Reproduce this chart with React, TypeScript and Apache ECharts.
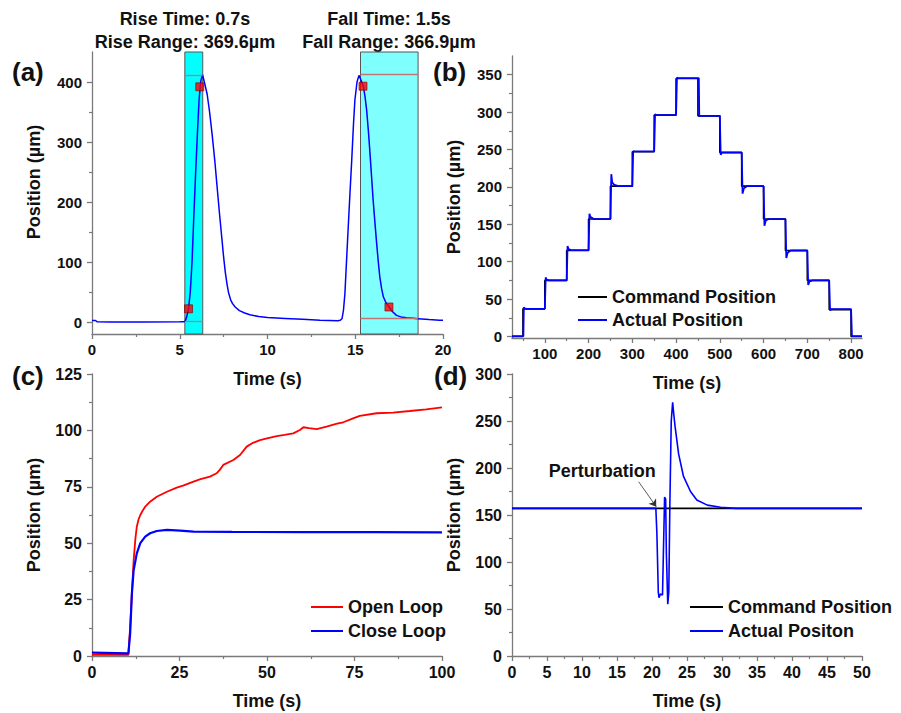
import React, { useEffect, useRef } from "react";
import * as echarts from "echarts";

// ---------- Panel (a): rise / fall response ----------
const aCurve: [number, number][] = [
  [0, 2.5], [0.2, 2.5], [0.3, 0.3], [1, 0.2], [3, 0.2], [5, 0.3], [5.25, 0.4], [5.32, 2], [5.4, 9],
  [5.5, 22], [5.6, 50], [5.7, 100], [5.8, 175], [5.9, 245], [6.0, 310], [6.1, 370], [6.2, 402],
  [6.3, 412], [6.4, 400], [6.56, 380], [6.7, 350], [6.84, 314], [7.0, 268], [7.12, 228], [7.26, 182],
  [7.41, 136], [7.5, 108], [7.6, 82], [7.7, 62], [7.78, 49], [7.9, 37], [8.0, 31], [8.16, 25],
  [8.4, 19], [8.7, 15], [9.0, 12], [9.5, 9], [10, 7.5], [11, 6], [12, 4.5], [13, 3], [14, 2],
  [14.15, 3], [14.25, 6], [14.33, 20], [14.41, 47], [14.5, 100], [14.6, 158], [14.7, 215],
  [14.8, 270], [14.9, 330], [14.98, 370], [15.1, 400], [15.21, 411], [15.3, 405], [15.46, 393],
  [15.56, 375], [15.65, 353], [15.75, 318], [15.84, 281], [15.93, 242], [16.02, 203], [16.12, 166],
  [16.22, 131], [16.31, 101], [16.4, 75], [16.5, 56], [16.6, 42], [16.75, 32], [16.93, 25],
  [17.1, 18], [17.35, 11], [17.6, 8.5], [17.92, 7], [18.3, 6.2], [18.58, 5.6], [19.2, 4], [19.8, 3], [20, 3],
];
const aMarkers: [number, number][] = [[5.5, 22], [6.14, 392], [15.44, 393], [16.92, 25]];
const riseWindow = [5.29, 6.31];
const fallWindow = [15.3, 18.58];
const riseLevels = [0.5, 411];
const fallLevels = [5.6, 412.8];

// ---------- Panel (b): staircase ----------
const bCommand: [number, number][] = [
  [25, 0], [50, 37], [100, 75], [150, 115], [200, 157], [250, 201], [300, 247], [350, 296],
  [400, 345], [450, 295], [500, 246], [550, 201], [600, 157], [650, 115], [700, 75], [750, 36],
  [800, 0], [825, 0],
];
const bActual: [number, number][] = [
  [25, 0.5], [51, 0.5], [52, 39], [54, 37.5], [58, 37], [100, 37], [101, 37], [102, 79], [104, 76],
  [110, 75], [150, 75], [151, 75], [152, 121], [154, 117], [160, 115.5], [200, 115.5], [201, 115.5],
  [202, 164], [204, 160], [212, 157], [250, 157], [251, 157], [252, 217], [254, 206], [258, 203],
  [268, 201], [300, 201], [301, 201], [302, 248], [305, 247.5], [350, 247.5], [351, 247.5],
  [352, 297], [355, 296], [400, 296], [401, 296], [402, 346], [405, 345.5], [450, 345.5],
  [452, 345.5], [453, 294.5], [457, 295], [500, 295], [501, 295], [502, 243], [505, 246],
  [550, 246], [551, 246], [552, 191], [555, 198], [562, 201], [600, 201], [601, 201], [602, 148],
  [605, 155], [612, 157], [650, 157], [651, 157], [652, 105], [655, 112], [662, 115], [700, 115],
  [701, 115], [702, 69], [705, 73.5], [712, 75], [750, 75], [751, 75], [752, 35], [755, 36.5],
  [800, 36.5], [801, 36], [802, 0.5], [825, 0.5],
];

// ---------- Panel (c): open vs close loop ----------
const cOpen: [number, number][] = [
  [0, 0.5], [10.4, 0.5], [10.9, 13], [11.4, 28], [11.9, 42.5], [12.4, 52], [12.8, 57.3], [13.3, 60.5],
  [13.8, 62.5], [14.5, 64.5], [15.2, 66.2], [16.6, 68.4], [18.5, 70.6], [21.4, 72.8], [24.2, 74.6],
  [26, 75.5], [29, 77.3], [31, 78.4], [33.7, 79.5], [35.6, 81], [36.5, 82.5], [37.5, 84.7],
  [40.4, 86.9], [42.3, 89.1], [44.2, 92.8], [46, 94.5], [48, 95.7], [50, 96.5], [52.8, 97.5],
  [55, 98], [57.5, 98.7], [59.4, 100.2], [60.4, 101.4], [62, 101], [64.2, 100.6], [67, 101.7],
  [70, 103], [71.8, 103.6], [74.6, 105.3], [76.5, 106.4], [81.3, 107.6], [86, 107.9], [90.8, 108.6],
  [95.5, 109.3], [100, 110.2],
];
const cClose: [number, number][] = [
  [0, 1.5], [10.4, 1.2], [10.9, 10], [11.4, 27.8], [11.9, 38], [12.8, 45.5], [13.8, 50], [15.2, 52.9],
  [16.6, 54.4], [18.5, 55.4], [21.4, 55.9], [25.2, 55.6], [29, 55.1], [40, 55], [60, 54.9], [80, 54.9],
  [100, 54.8],
];

// ---------- Panel (d): perturbation ----------
const dCommand: [number, number][] = [[0, 157], [50, 157]];
const dActual: [number, number][] = [
  [0, 157], [20.55, 157], [20.7, 130], [20.9, 68], [21.0, 62], [21.2, 66], [21.5, 65], [21.6, 100],
  [21.8, 169], [21.95, 167], [22.05, 110], [22.25, 55], [22.4, 68], [22.55, 160], [22.75, 250],
  [22.95, 270], [23.1, 258], [23.3, 244], [23.8, 215], [24.5, 191], [25.5, 175], [26.4, 166],
  [27.9, 160.5], [29.8, 158.2], [32, 157], [50, 157],
];
const perturbLabel: [number, number] = [12.9, 196.8];
const perturbArrow: [number, number][] = [[18.09, 185.4], [20.61, 158.8]];

// ---------- Tick values ----------
const aXTicks = [0, 5, 10, 15, 20];
const aXMinor = [2.5, 7.5, 12.5, 17.5];
const aYTicks = [0, 100, 200, 300, 400];
const aYMinor = [50, 150, 250, 350];
const bXTicks = [100, 200, 300, 400, 500, 600, 700, 800];
const bXMinor = [50, 150, 250, 350, 450, 550, 650, 750];
const bYTicks = [0, 50, 100, 150, 200, 250, 300, 350];
const bYMinor = [25, 75, 125, 175, 225, 275, 325];
const cXTicks = [0, 25, 50, 75, 100];
const cXMinor = [12.5, 37.5, 62.5, 87.5];
const cYTicks = [0, 25, 50, 75, 100, 125];
const cYMinor = [12.5, 37.5, 62.5, 87.5, 112.5];
const dXTicks = [0, 5, 10, 15, 20, 25, 30, 35, 40, 45, 50];
const dXMinor = [2.5, 7.5, 12.5, 17.5, 22.5, 27.5, 32.5, 37.5, 42.5, 47.5];
const dYTicks = [0, 50, 100, 150, 200, 250, 300];
const dYMinor = [25, 75, 125, 175, 225, 275];

const FONT = "'Liberation Sans', Arial, Helvetica, sans-serif";
const AXIS_COLOR = "#7a7a7a";
const TEXT_COLOR = "#111111";
const BLUE = "#0000ff";
const RED = "#ff0000";

function mainX(grid: number, min: number, max: number, ticks: number[], fontSize: number) {
  return {
    type: "value", gridIndex: grid, min, max, position: "bottom",
    name: "Time (s)", nameLocation: "middle", nameGap: 36,
    nameTextStyle: { fontFamily: FONT, fontWeight: "bold", fontSize: 18, color: TEXT_COLOR },
    axisLine: { show: true, onZero: false, lineStyle: { color: AXIS_COLOR, width: 1.3 } },
    axisTick: { show: true, customValues: ticks, length: 5, lineStyle: { color: AXIS_COLOR, width: 1.3 } },
    axisLabel: { show: true, customValues: ticks, margin: 8, fontFamily: FONT, fontWeight: "bold", fontSize, color: TEXT_COLOR, hideOverlap: false },
    splitLine: { show: false },
  };
}
function minorX(grid: number, min: number, max: number, ticks: number[]) {
  return {
    type: "value", gridIndex: grid, min, max, position: "bottom",
    axisLine: { show: false, onZero: false },
    axisTick: { show: true, customValues: ticks, length: 3, lineStyle: { color: AXIS_COLOR, width: 1.2 } },
    axisLabel: { show: false },
    splitLine: { show: false },
  };
}
function mainY(grid: number, min: number, max: number, ticks: number[], fontSize: number, shift = 0) {
  return {
    type: "value", gridIndex: grid, min, max, position: "left",
    name: "Position (µm)", nameLocation: "middle", nameGap: 49,
    nameTextStyle: { fontFamily: FONT, fontWeight: "bold", fontSize: 18, color: TEXT_COLOR, padding: [0, 0, 0, shift] },
    axisLine: { show: true, onZero: false, lineStyle: { color: AXIS_COLOR, width: 1.3 } },
    axisTick: { show: true, customValues: ticks, length: 5, lineStyle: { color: AXIS_COLOR, width: 1.3 } },
    axisLabel: { show: true, customValues: ticks, margin: 10, fontFamily: FONT, fontWeight: "bold", fontSize, color: TEXT_COLOR, hideOverlap: false },
    splitLine: { show: false },
  };
}
function minorY(grid: number, min: number, max: number, ticks: number[]) {
  return {
    type: "value", gridIndex: grid, min, max, position: "left",
    axisLine: { show: false, onZero: false },
    axisTick: { show: true, customValues: ticks, length: 3, lineStyle: { color: AXIS_COLOR, width: 1.2 } },
    axisLabel: { show: false },
    splitLine: { show: false },
  };
}

const legendText = { fontFamily: FONT, fontWeight: "bold", fontSize: 18, color: TEXT_COLOR, lineHeight: 20 };

function textEl(x: number, y: number, text: string, size: number, align = "center") {
  return {
    type: "text", x, y, silent: true,
    style: { text, fontFamily: FONT, fontWeight: "bold", fontSize: size, fill: TEXT_COLOR, align, verticalAlign: "middle" },
  };
}

export default function App() {
  const ref = useRef<HTMLDivElement>(null);
  useEffect(() => {
    if (!ref.current) return;
    const chart = echarts.init(ref.current, undefined, { renderer: "svg" });
    const option: any = {
      animation: false,
      backgroundColor: "#ffffff",
      textStyle: { fontFamily: FONT },
      grid: [
        { left: 92, top: 52, width: 351, height: 282, containLabel: false, outerBoundsMode: "none" },
        { left: 512, top: 56, width: 350, height: 282, containLabel: false, outerBoundsMode: "none" },
        { left: 92, top: 374, width: 350, height: 282, containLabel: false, outerBoundsMode: "none" },
        { left: 512, top: 374, width: 350, height: 282, containLabel: false, outerBoundsMode: "none" },
      ],
      xAxis: [
        mainX(0, 0, 20, aXTicks, 15),
        mainX(1, 25, 825, bXTicks, 15),
        mainX(2, 0, 100, cXTicks, 16),
        mainX(3, 0, 50, dXTicks, 16),
        minorX(0, 0, 20, aXMinor),
        minorX(1, 25, 825, bXMinor),
        minorX(2, 0, 100, cXMinor),
        minorX(3, 0, 50, dXMinor),
      ],
      yAxis: [
        mainY(0, -20, 450, aYTicks, 15, 22),
        mainY(1, -2, 375, bYTicks, 15),
        mainY(2, 0, 125, cYTicks, 16),
        mainY(3, 0, 300, dYTicks, 16),
        minorY(0, -20, 450, aYMinor),
        minorY(1, -2, 375, bYMinor),
        minorY(2, 0, 125, cYMinor),
        minorY(3, 0, 300, dYMinor),
      ],
      legend: [
        {
          orient: "vertical", left: 578, top: 287, padding: 0, itemGap: 3, itemWidth: 29, itemHeight: 2,
          icon: "rect", data: ["Command Position", "Actual Position"], textStyle: legendText, selectedMode: false,
        },
        {
          orient: "vertical", left: 311, top: 597, padding: 0, itemGap: 4, itemWidth: 32, itemHeight: 2,
          icon: "rect", data: ["Open Loop", "Close Loop"], textStyle: legendText, selectedMode: false,
        },
        {
          orient: "vertical", left: 690, top: 597, padding: 0, itemGap: 4, itemWidth: 33, itemHeight: 2,
          icon: "rect", data: ["Command Position", "Actual Positon"], textStyle: legendText, selectedMode: false,
        },
      ],
      graphic: [
        textEl(185, 19, "Rise Time: 0.7s", 18),
        textEl(185, 42, "Rise Range: 369.6µm", 18),
        textEl(389, 19, "Fall Time: 1.5s", 18),
        textEl(389, 42, "Fall Range: 366.9µm", 18),
        textEl(12, 72, "(a)", 26, "left"),
        textEl(433, 72, "(b)", 26, "left"),
        textEl(12, 376, "(c)", 26, "left"),
        textEl(434, 376, "(d)", 26, "left"),
      ],
      series: [
        {
          name: "Response", type: "line", xAxisIndex: 0, yAxisIndex: 0, data: aCurve,
          symbol: "none", lineStyle: { color: BLUE, width: 1.5 }, itemStyle: { color: BLUE }, z: 3,
          markArea: {
            silent: true,
            data: [
              [{ xAxis: riseWindow[0], itemStyle: { color: "#00ffff", opacity: 1, borderColor: "#555555", borderWidth: 1 } }, { xAxis: riseWindow[1] }],
              [{ xAxis: fallWindow[0], itemStyle: { color: "#80ffff", opacity: 1, borderColor: "#555555", borderWidth: 1 } }, { xAxis: fallWindow[1] }],
            ],
          },
          markLine: {
            silent: true, symbol: ["none", "none"], label: { show: false },
            lineStyle: { color: "#c47474", width: 1.3, type: "solid" },
            data: [
              [{ coord: [riseWindow[0], riseLevels[0]] }, { coord: [riseWindow[1], riseLevels[0]] }],
              [{ coord: [riseWindow[0], riseLevels[1]] }, { coord: [riseWindow[1], riseLevels[1]] }],
              [{ coord: [fallWindow[0], fallLevels[0]] }, { coord: [fallWindow[1], fallLevels[0]] }],
              [{ coord: [fallWindow[0], fallLevels[1]] }, { coord: [fallWindow[1], fallLevels[1]] }],
            ],
          },
        },
        {
          name: "Markers", type: "scatter", xAxisIndex: 0, yAxisIndex: 0, data: aMarkers,
          symbol: "rect", symbolSize: 8, z: 4,
          itemStyle: { color: RED, borderColor: "#7a0000", borderWidth: 0.8 },
        },
        {
          name: "Command Position", type: "line", xAxisIndex: 1, yAxisIndex: 1, data: bCommand, step: "end",
          symbol: "none", lineStyle: { color: "#000000", width: 1.6 }, itemStyle: { color: "#000000" },
        },
        {
          name: "Actual Position", type: "line", xAxisIndex: 1, yAxisIndex: 1, data: bActual,
          symbol: "none", lineStyle: { color: BLUE, width: 1.8 }, itemStyle: { color: BLUE },
        },
        {
          name: "Open Loop", type: "line", xAxisIndex: 2, yAxisIndex: 2, data: cOpen,
          symbol: "none", lineStyle: { color: RED, width: 1.8 }, itemStyle: { color: RED },
        },
        {
          name: "Close Loop", type: "line", xAxisIndex: 2, yAxisIndex: 2, data: cClose,
          symbol: "none", lineStyle: { color: BLUE, width: 2.2 }, itemStyle: { color: BLUE },
        },
        {
          name: "Command Position", type: "line", xAxisIndex: 3, yAxisIndex: 3, data: dCommand,
          symbol: "none", lineStyle: { color: "#000000", width: 1.6 }, itemStyle: { color: "#000000" },
        },
        {
          name: "Actual Positon", type: "line", xAxisIndex: 3, yAxisIndex: 3, data: dActual,
          symbol: "none", lineStyle: { color: BLUE, width: 1.6 }, itemStyle: { color: BLUE },
          markLine: {
            silent: true, symbol: ["none", "arrow"], symbolSize: 7, label: { show: false },
            lineStyle: { color: "#333333", width: 0.8, type: "solid" },
            data: [[{ coord: perturbArrow[0] }, { coord: perturbArrow[1] }]],
          },
          markPoint: {
            silent: true, symbol: "rect", symbolSize: 1, itemStyle: { color: "rgba(0,0,0,0)" },
            label: { show: true, position: "inside", formatter: "Perturbation", fontFamily: FONT, fontWeight: "bold", fontSize: 18, color: TEXT_COLOR },
            data: [{ coord: perturbLabel }],
          },
        },
      ],
    };
    chart.setOption(option);
    return () => chart.dispose();
  }, []);
  return (
    <div
      ref={ref}
      style={{ position: "absolute", left: 0, top: 0, width: 901, height: 713, background: "#ffffff" }}
    />
  );
}
